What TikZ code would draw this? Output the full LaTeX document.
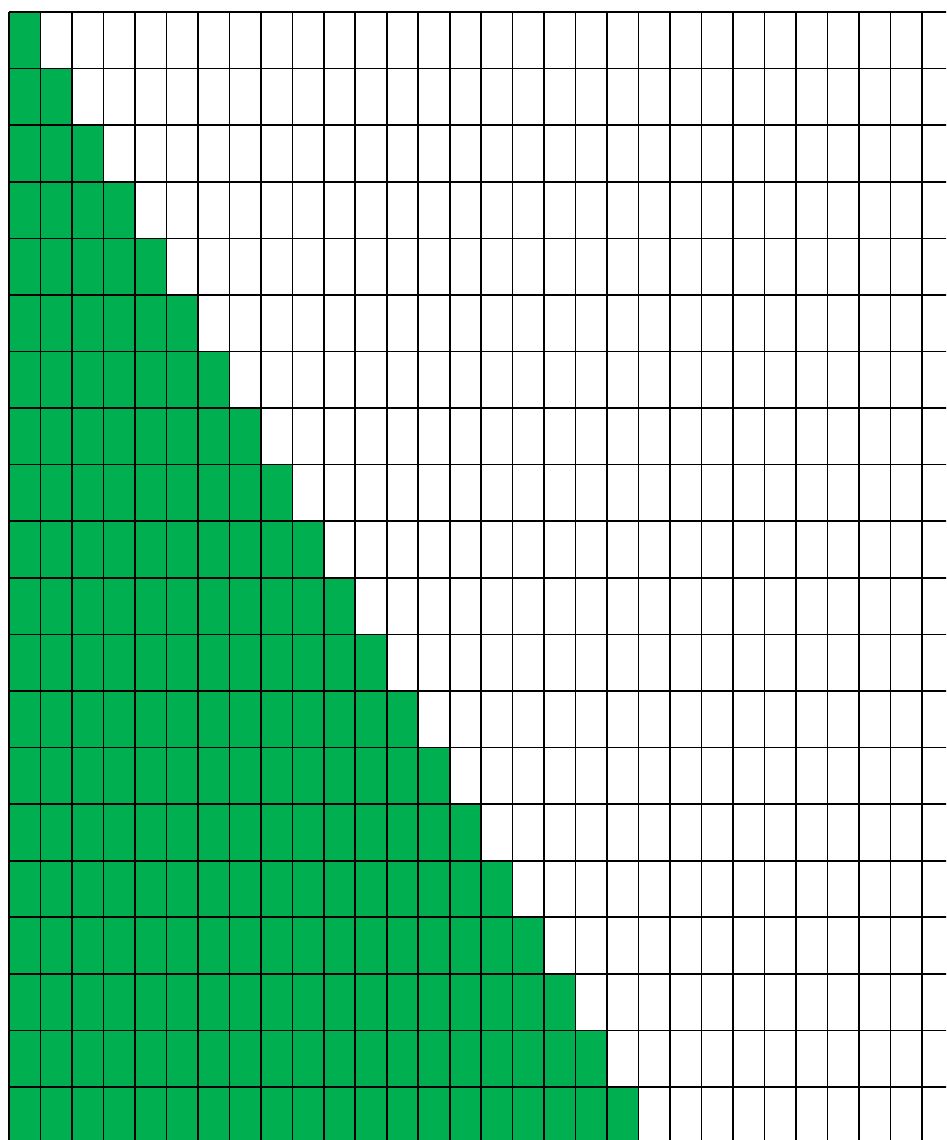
\documentclass[tikz,border=0pt]{standalone}
\definecolor{cellgreen}{HTML}{00B050}
\tikzset{gridline/.style={black,line width=1.6pt}, greencell/.style={fill=cellgreen}}
\begin{document}
\begin{tikzpicture}[x=1pt,y=-1pt]
\useasboundingbox (0,0) rectangle (946,1140);
\clip (0,0) rectangle (946,1140);
\def\cw{31.48}\def\rh{56.58}
% green cells
\foreach \r in {0,...,19}{
  \foreach \c in {0,...,\r}{
    \fill[greencell] ({9+\c*\cw},{12+\r*\rh}) rectangle ({9+(\c+1)*\cw},{12+(\r+1)*\rh});
  }
}
% vertical lines
\foreach \k in {0,...,29}{
  \draw[gridline] ({9+\k*\cw},12) -- ({9+\k*\cw},1150);
}
% horizontal lines
\foreach \k in {0,...,19}{
  \draw[gridline] (9,{12+\k*\rh}) -- (956,{12+\k*\rh});
}
\end{tikzpicture}
\end{document}
